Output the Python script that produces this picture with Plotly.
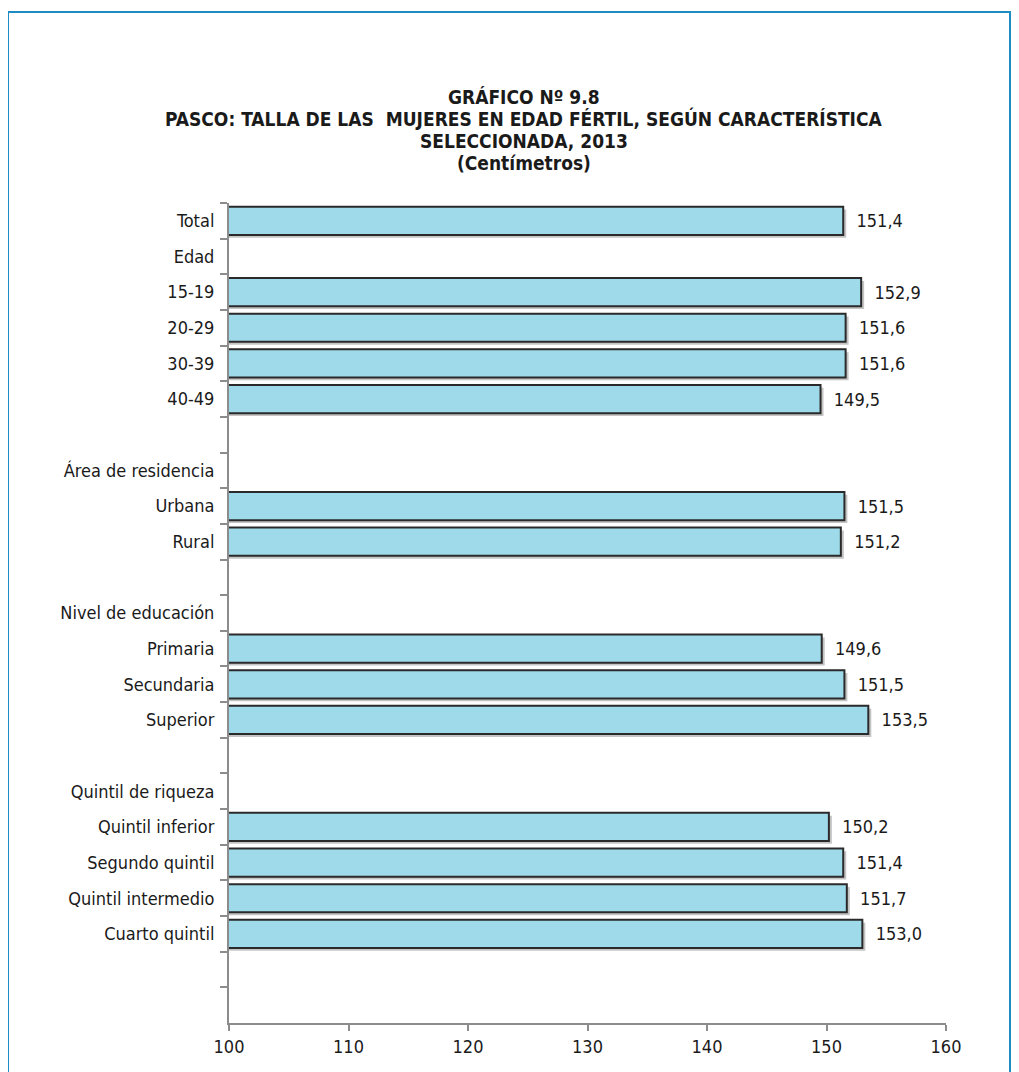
import plotly.graph_objects as go

categories = ["Total", "Edad", "15-19", "20-29", "30-39", "40-49", " ",
              "Área de residencia", "Urbana", "Rural", "  ",
              "Nivel de educación", "Primaria", "Secundaria", "Superior", "   ",
              "Quintil de riqueza", "Quintil inferior", "Segundo quintil",
              "Quintil intermedio", "Cuarto quintil", "    ", "     "]
values = [151.4, None, 152.9, 151.6, 151.6, 149.5, None,
          None, 151.5, 151.2, None,
          None, 149.6, 151.5, 153.5, None,
          None, 150.2, 151.4, 151.7, 153.0, None, None]
x_ticks = [100, 110, 120, 130, 140, 150, 160]
title_lines = ["GRÁFICO Nº 9.8",
               "PASCO: TALLA DE LAS  MUJERES EN EDAD FÉRTIL, SEGÚN CARACTERÍSTICA",
               "SELECCIONADA, 2013",
               "(Centímetros)"]

# page has an 8px body margin, so the figure is drawn 8px in from the corner
OFF = 8
W, H = 1019 - OFF, 1072 - OFF
L, R, T, B = 229 - OFF, 73, 203 - OFF, 49
pw, ph = W - L - R, H - T - B

def px(x):
    return (x - OFF - L) / pw

def py(y):
    return (H - B - (y - OFF)) / ph

FONT = "DejaVu Sans Condensed, Liberation Sans Narrow, Arial Narrow, Liberation Sans, sans-serif"

BW = 0.79
shadow_x = [v + 0.25 if v is not None else None for v in values]

fig = go.Figure()
fig.add_trace(go.Bar(
    y=categories, x=shadow_x, orientation="h", base=0,
    width=BW, offset=-BW / 2 + 0.08,
    marker=dict(color="#c4c4c4", line=dict(width=0)),
    hoverinfo="skip", showlegend=False,
))
fig.add_trace(go.Bar(
    y=categories, x=values, orientation="h", base=0,
    width=BW, offset=-BW / 2,
    marker=dict(color="#9FDAEB", line=dict(color="#2a2a2a", width=2)),
    texttemplate="  %{x:.1f}", textposition="outside",
    textfont=dict(family=FONT, size=18, color="#1a1a1a"),
    cliponaxis=False, showlegend=False,
))

annotations = []
for i, line in enumerate(title_lines):
    annotations.append(dict(
        xref="paper", yref="paper", x=px(524), y=py(97 + 22 * i),
        xanchor="center", yanchor="middle", text="<b>" + line + "</b>",
        showarrow=False, font=dict(family=FONT, size=19, color="#1a1a1a")))

fig.update_layout(
    width=W, height=H,
    margin=dict(l=L, r=R, t=T, b=B),
    paper_bgcolor="white", plot_bgcolor="white",
    separators=",.",
    barmode="overlay",
    font=dict(family=FONT, size=18, color="#1a1a1a"),
    xaxis=dict(range=[100, 160], tickvals=x_ticks, showgrid=False, zeroline=False,
               showline=True, linecolor="#8c8c8c", linewidth=2,
               ticks="outside", ticklen=6, tickcolor="#8c8c8c", tickwidth=2,
               tickfont=dict(family=FONT, size=18, color="#1a1a1a")),
    yaxis=dict(categoryorder="array", categoryarray=categories, autorange="reversed",
               showgrid=False, showline=True, linecolor="#8c8c8c", linewidth=2,
               ticks="outside", tickson="boundaries", ticklen=7, tickcolor="#8c8c8c",
               tickwidth=2, ticklabelstandoff=9,
               tickfont=dict(family=FONT, size=18, color="#1a1a1a")),
    shapes=[dict(type="rect", xref="paper", yref="paper",
                 x0=px(8), x1=px(1010), y0=py(1090), y1=py(12),
                 line=dict(color="#1E8BC3", width=2), fillcolor="rgba(0,0,0,0)",
                 layer="below")],
    annotations=annotations,
)

fig.write_html("out.html")
